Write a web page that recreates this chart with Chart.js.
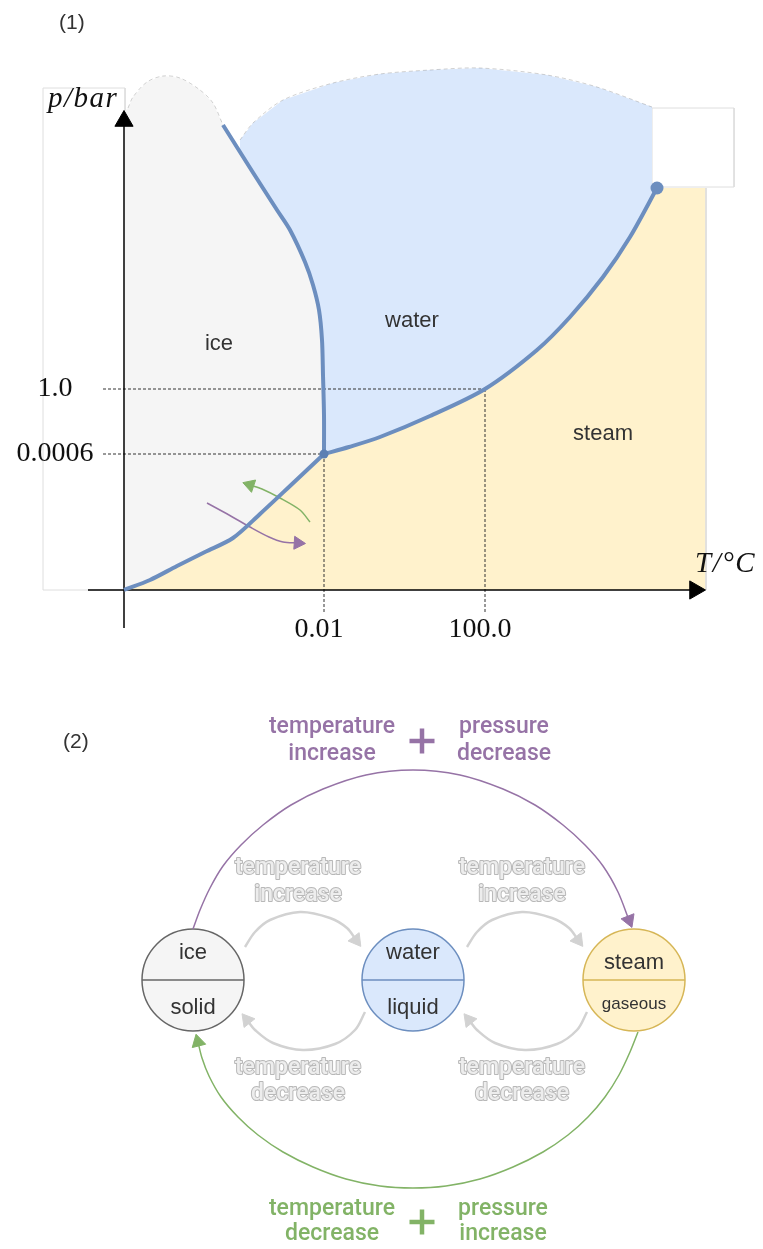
<!DOCTYPE html>
<html>
<head>
<meta charset="utf-8">
<script src="https://cdn.jsdelivr.net/npm/chart.js@4.4.1/dist/chart.umd.min.js"></script>
<style>
body { margin: 0; background: #fff; }
canvas { display: block; }
</style>
</head>
<body>
<canvas id="phaseChart" width="763" height="660"></canvas>
<canvas id="cycleChart" width="763" height="589"></canvas>
<script>
// (1) phase diagram of water, schematic units (origin where the axes cross)
const sublimationCurve = [[0,0],[26,10],[53,24],[81,38],[109,52],[136,76],[166,104],[200,136]];
const meltingCurve = [[200,136],[200,175],[199,215],[198,250],[195,280],[189,305],[181,328],[166,360],[153,380],[128,419],[99,465]];
const boilingCurve = [[200,136],[225,143],[256,153],[306,174],[361,201],[413,240],[446,273],[479,313],[506,353],[533,402]];
const iceTop = [[0,478],[4,482],[9,493],[23,508],[39,514],[56,512],[76,500],[89,487],[99,465]];
const waterTop = [[117,437],[116,450],[129,467],[159,490],[209,507],[256,516],[306,520],[356,522],[423,515],[473,503],[528,483],[528,405]];
const triplePoint = [200,136];
const criticalPoint = [533,402];
const tTicks = [200, 361];
const tTickLabels = ['0.01', '100.0'];
const pTicks = [136, 201];
const pTickLabels = ['0.0006', '1.0'];
const regionNames = ['ice', 'water', 'steam'];
const sublimeArrow = [[83,87],[105,75],[126,63],[145,53],[159,48],[174,47]];
const depositArrow = [[186,68],[176,80],[156,92],[138,101],[126,105]];

// (2) state changes
const phases = ['ice', 'water', 'steam'];
const states = ['solid', 'liquid', 'gaseous'];
const phaseX = [-220, 0, 221];
const upperArc = [[-220,51],[-213,70],[-203,92],[-190,114],[-172,135],[-150,155],[-122,175],[-90,191],[-47,205],[0,210],[47,205],[90,191],[122,175],[150,155],[172,135],[190,114],[205,88],[216,60]];
const lowerArc = [[225,-52],[217,-72],[206,-95],[192,-117],[175,-137],[155,-155],[130,-172],[100,-187],[67,-199],[33,-206],[0,-208],[-33,-206],[-67,-199],[-100,-187],[-130,-172],[-155,-155],[-175,-137],[-192,-117],[-204,-96],[-211,-78],[-215,-62]];
const meltArrow = [[-168,33],[-158,48],[-143,60],[-113,68],[-83,62],[-66,52],[-57,40]];
const freezeArrow = [[-48,-32],[-58,-50],[-78,-64],[-110,-70],[-140,-63],[-158,-50],[-166,-40]];
const boilArrow = [[54,33],[64,48],[79,60],[109,68],[139,62],[156,52],[165,40]];
const condenseArrow = [[174,-32],[164,-50],[144,-64],[112,-70],[82,-63],[64,-50],[56,-40]];
const upperNote = [['temperature', 'increase'], ['pressure', 'decrease']];
const lowerNote = [['temperature', 'decrease'], ['pressure', 'increase']];
const heatNote = ['temperature', 'increase'];
const coolNote = ['temperature', 'decrease'];

const BLUE = '#6c8ebf', PURPLE = '#9673a6', GREEN = '#82b366', GREY = '#d2d2d2';
const SANS = '"Liberation Sans", Arial, sans-serif';
const NOTE = '500 23px Roboto, "Liberation Sans", sans-serif';

const P = a => a.map(([x, y]) => ({x, y}));

function arrowTip(color, size) {
  return {
    pointStyle: 'triangle',
    pointRadius: c => c.dataIndex === c.dataset.data.length - 1 ? size : 0,
    pointHoverRadius: 0,
    pointRotation: c => {
      const d = c.dataset.data, n = d.length;
      return Math.atan2(d[n - 1].x - d[n - 2].x, d[n - 1].y - d[n - 2].y) * 180 / Math.PI;
    },
    pointBackgroundColor: color,
    pointBorderColor: color,
    pointBorderWidth: 1
  };
}

function line(data, color, width, extra) {
  return Object.assign({data: P(data), borderColor: color, borderWidth: width, pointRadius: 0,
    fill: false, tension: 0, order: 5}, extra);
}

function area(data, color, extra) {
  return Object.assign({data: P(data), borderColor: 'transparent', borderWidth: 0, backgroundColor: color,
    pointRadius: 0, fill: 'shape', tension: 0, order: 10}, extra);
}

const icePoly = [[0,0], ...iceTop, ...meltingCurve.slice(0, -1).reverse(), ...sublimationCurve.slice(1, -1).reverse()];
const waterPoly = [...meltingCurve.slice(0, 10), ...waterTop, ...boilingCurve.slice(1).reverse()];
const steamPoly = [...sublimationCurve, ...boilingCurve.slice(1), [582,402], [582,0]];

const phaseDatasets = [
  area(icePoly, '#f5f5f5'),
  area(waterPoly, '#dae8fc'),
  area(steamPoly, '#fff2cc'),
  area([[-81,0],[-81,502],[1,502],[1,0],[-81,0]], '#ffffff', {borderColor: '#dedede', borderWidth: 1}),
  area([[528,403],[528,482],[610,482],[610,403],[528,403]], '#ffffff', {borderColor: '#dedede', borderWidth: 1}),
  line([[582,402],[582,0]], '#dedede', 1, {order: 9}),
  line(iceTop.slice(1), 'rgba(0,0,0,0.18)', 1, {borderDash: [4, 3], tension: 0.3, order: 9}),
  line(waterTop.slice(1, -1), 'rgba(0,0,0,0.18)', 1, {borderDash: [4, 3], tension: 0.3, order: 9}),
  ...pTicks.map((v, i) => line([[-21, v], [tTicks[i], v]], '#333', 1, {borderDash: [3, 2], order: 8})),
  ...tTicks.map((u, i) => line([[u, pTicks[i]], [u, -22]], '#333', 1, {borderDash: [3, 2], order: 8})),
  line([[0,-38],[0,469]], '#000', 1.5, Object.assign(arrowTip('#000', 10.5), {order: 7})),
  line([[-36,0],[571,0]], '#000', 1.5, Object.assign(arrowTip('#000', 10.5), {order: 7})),
  line(sublimeArrow, PURPLE, 1.5, Object.assign(arrowTip(PURPLE, 7.5), {tension: 0.3, order: 6})),
  line(depositArrow, GREEN, 1.5, Object.assign(arrowTip(GREEN, 7.5), {tension: 0.3, order: 6})),
  line(sublimationCurve, BLUE, 4, {tension: 0.3, borderJoinStyle: 'round'}),
  line(meltingCurve, BLUE, 4, {tension: 0.3, borderJoinStyle: 'round'}),
  line(boilingCurve, BLUE, 4, {tension: 0.3, borderJoinStyle: 'round'}),
  line([triplePoint], BLUE, 0, {pointRadius: 4.5, pointBackgroundColor: '#5b7fb3', pointBorderWidth: 0, order: 4}),
  line([criticalPoint], BLUE, 0, {pointRadius: 6.5, pointBackgroundColor: BLUE, pointBorderWidth: 0, order: 4})
];

const phaseLabels = {
  id: 'phaseLabels',
  afterDatasetsDraw(chart) {
    const {ctx, scales: {x, y}} = chart;
    const at = (u, v) => [x.getPixelForValue(u), y.getPixelForValue(v)];
    ctx.save();
    ctx.fillStyle = '#333';
    ctx.textBaseline = 'middle';
    ctx.textAlign = 'left';
    ctx.font = '21px ' + SANS;
    ctx.fillText('(1)', ...at(-65, 567));
    ctx.textAlign = 'center';
    ctx.font = '22px ' + SANS;
    const labelAt = [[95, 246], [288, 269], [479, 156]];
    regionNames.forEach((t, i) => ctx.fillText(t, ...at(...labelAt[i])));
    ctx.fillStyle = '#111';
    ctx.font = '28px "Liberation Serif", serif';
    pTicks.forEach((v, i) => ctx.fillText(pTickLabels[i], ...at(-69, v)));
    tTicks.forEach((u, i) => ctx.fillText(tTickLabels[i], ...at(u - 5, -40)));
    ctx.textAlign = 'left';
    ctx.textBaseline = 'alphabetic';
    ctx.font = 'italic 29px "Liberation Serif", serif';
    ctx.letterSpacing = '1.5px';
    ctx.fillText('p/bar', ...at(-76, 483));
    ctx.fillText('T/°C', ...at(571, 18));
    ctx.restore();
  }
};

const baseOptions = (xmin, xmax, ymin, ymax) => ({
  responsive: false,
  animation: false,
  events: [],
  layout: {padding: 0, autoPadding: false},
  plugins: {legend: {display: false}, tooltip: {enabled: false}},
  scales: {
    x: {type: 'linear', min: xmin, max: xmax, display: false},
    y: {type: 'linear', min: ymin, max: ymax, display: false}
  }
});

new Chart(document.getElementById('phaseChart'), {
  type: 'line',
  data: {datasets: phaseDatasets},
  options: baseOptions(-124, 639, -70, 590),
  plugins: [phaseLabels]
});

// (2)
const circleFill = ['#f5f5f5', '#dae8fc', '#fff2cc'];
const circleEdge = ['#666666', '#6c8ebf', '#d6b656'];

const cycleDatasets = [
  line(phaseX.map(u => [u, 0]), 'transparent', 0, {showLine: false, pointRadius: 51, pointStyle: 'circle',
    pointBackgroundColor: circleFill, pointBorderColor: circleEdge, pointBorderWidth: 1.5, order: 6}),
  ...phaseX.map((u, i) => line([[u - 51, 0], [u + 51, 0]], circleEdge[i], 1.5, {order: 4})),
  line(upperArc, PURPLE, 1.5, Object.assign(arrowTip(PURPLE, 8), {tension: 0.3, order: 3})),
  line(lowerArc, GREEN, 1.5, Object.assign(arrowTip(GREEN, 8), {tension: 0.3, order: 3})),
  ...[meltArrow, freezeArrow, boilArrow, condenseArrow].map(a =>
    line(a, GREY, 2.5, Object.assign(arrowTip(GREY, 8), {tension: 0.35, order: 3}))),
  line([[9, 239], [9, -242]], 'transparent', 0, {showLine: false, pointStyle: 'cross', pointRadius: 12.5,
    pointBorderColor: [PURPLE, GREEN], pointBorderWidth: 4.5, order: 2})
];

const cycleLabels = {
  id: 'cycleLabels',
  afterDatasetsDraw(chart) {
    const {ctx, scales: {x, y}} = chart;
    const at = (u, v) => [x.getPixelForValue(u), y.getPixelForValue(v)];
    ctx.save();
    ctx.textBaseline = 'middle';
    ctx.textAlign = 'left';
    ctx.fillStyle = '#333';
    ctx.font = '21px ' + SANS;
    ctx.fillText('(2)', ...at(-350, 238));
    ctx.textAlign = 'center';
    phases.forEach((t, i) => {
      ctx.font = '22px ' + SANS;
      ctx.fillText(t, ...at(phaseX[i], i === 2 ? 17 : 27));
      ctx.font = (i === 2 ? '17px ' : '22px ') + SANS;
      ctx.fillText(states[i], ...at(phaseX[i], i === 2 ? -24 : -28));
    });

    ctx.font = NOTE;
    ctx.fillStyle = PURPLE;
    upperNote.forEach((pair, i) => pair.forEach((t, j) => ctx.fillText(t, ...at(i ? 91 : -81, 253 - 27 * j))));
    ctx.fillStyle = GREEN;
    lowerNote.forEach((pair, i) => pair.forEach((t, j) => ctx.fillText(t, ...at(i ? 90 : -81, -229 - 25 * j))));

    ctx.fillStyle = '#ededed';
    ctx.strokeStyle = '#b8b8b8';
    ctx.lineWidth = 2;
    ctx.lineJoin = 'round';
    const ghost = (t, u, v) => { ctx.strokeText(t, ...at(u, v)); ctx.fillText(t, ...at(u, v)); };
    [-115, 109].forEach(u => {
      heatNote.forEach((t, j) => ghost(t, u, 112 - 27 * j));
      coolNote.forEach((t, j) => ghost(t, u, -88 - 26 * j));
    });
    ctx.restore();
  }
};

new Chart(document.getElementById('cycleChart'), {
  type: 'line',
  data: {datasets: cycleDatasets},
  options: baseOptions(-413, 350, -269, 320),
  plugins: [cycleLabels]
});
</script>
</body>
</html>
